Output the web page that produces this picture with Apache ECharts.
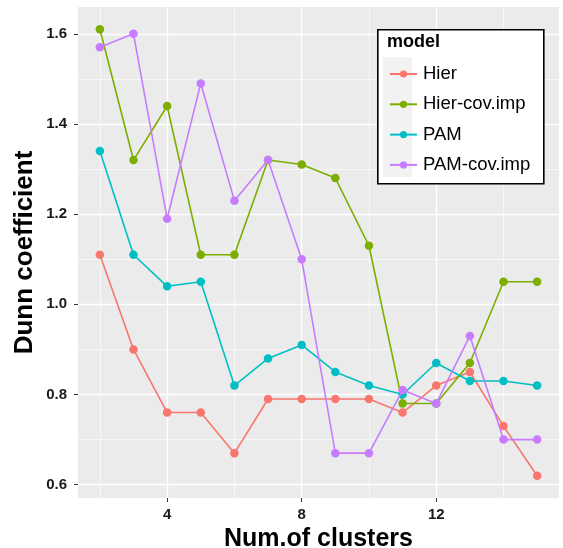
<!DOCTYPE html>
<html>
<head>
<meta charset="utf-8">
<script src="https://cdn.jsdelivr.net/npm/echarts@6/dist/echarts.min.js"></script>
<style>html,body{margin:0;padding:0;background:#fff;}#c{width:563px;height:548px;}</style>
</head>
<body>
<div id="c"></div>
<script>
var clusters = [2,3,4,5,6,7,8,9,10,11,12,13,14,15];
var hier      = [1.11,0.90,0.76,0.76,0.67,0.79,0.79,0.79,0.79,0.76,0.82,0.85,0.73,0.62];
var hierCov   = [1.61,1.32,1.44,1.11,1.11,1.32,1.31,1.28,1.13,0.78,0.78,0.87,1.05,1.05];
var pam       = [1.34,1.11,1.04,1.05,0.82,0.88,0.91,0.85,0.82,0.80,0.87,0.83,0.83,0.82];
var pamCov    = [1.57,1.60,1.19,1.49,1.23,1.32,1.10,0.67,0.67,0.81,0.78,0.93,0.70,0.70];
var seriesNames = ['Hier','Hier-cov.imp','PAM','PAM-cov.imp'];
var seriesColors = ['#F8766D','#7CAE00','#00BFC4','#C77CFF'];
var xTicks = [4,8,12];
var xMinor = [2,6,10,14];
var yTicks = [0.6,0.8,1.0,1.2,1.4,1.6];
var yMinor = [0.7,0.9,1.1,1.3,1.5];

var allVals = [hier,hierCov,pam,pamCov];
var chart = echarts.init(document.getElementById('c'));

function pairs(arr){ return clusters.map(function(c,i){ return [c, arr[i]]; }); }

var gridLines = [];
xMinor.forEach(function(v){ gridLines.push({xAxis:v, lineStyle:{width:0.6}}); });
xTicks.forEach(function(v){ gridLines.push({xAxis:v, lineStyle:{width:1.3}}); });
yMinor.forEach(function(v){ gridLines.push({yAxis:v, lineStyle:{width:0.6}}); });
yTicks.forEach(function(v){ gridLines.push({yAxis:v, lineStyle:{width:1.3}}); });

var series = [{
  type:'line', data:[], silent:true, z:1,
  markLine:{ silent:true, z:1, symbol:['none','none'], label:{show:false}, animation:false,
    lineStyle:{color:'#ffffff', type:'solid'}, emphasis:{disabled:true}, data: gridLines }
}];
allVals.forEach(function(arr,i){
  series.push({
    name: seriesNames[i], type:'line', data: pairs(arr), z:6+i,
    symbol:'circle', symbolSize:8.5, showSymbol:true,
    lineStyle:{width:1.6, color:seriesColors[i]},
    itemStyle:{color:seriesColors[i]},
    emphasis:{disabled:true}, animation:false
  });
});

var xMin = 1.35, xMax = 15.65, yMin = 0.5705, yMax = 1.6595;

chart.setOption({
  animation:false,
  backgroundColor:'#ffffff',
  textStyle:{fontFamily:'Liberation Sans, Arial, sans-serif'},
  grid:{left:78, top:7, width:481, height:491, show:true, backgroundColor:'#EBEBEB', borderWidth:0, containLabel:false, outerBoundsMode:'none'},
  title:{text:'model', left:382, top:28, z:20, textStyle:{fontSize:18, fontWeight:'bold', color:'#000', fontFamily:'Liberation Sans, Arial, sans-serif'}},
  graphic:[
    {type:'rect', left:377, top:29, shape:{width:166, height:154}, style:{fill:'#ffffff', stroke:'#000', lineWidth:1.6}, z:15},
    {type:'rect', left:383, top:57, shape:{width:29, height:120}, style:{fill:'#F2F2F2'}, z:16}
  ],
  legend:{
    data: seriesNames, orient:'vertical', left:384, top:59, itemWidth:27, itemHeight:9, itemGap:10.3,
    z:20,
    textStyle:{fontSize:18.5, color:'#000', lineHeight:20, padding:[0,0,0,1], fontFamily:'Liberation Sans, Arial, sans-serif'},
    selectedMode:false
  },
  xAxis:{
    type:'value', min:xMin, max:xMax,
    name:'Num.of clusters', nameLocation:'middle', nameGap:29, nameMoveOverlap:false,
    nameTextStyle:{fontSize:25, fontWeight:'bold', color:'#000', fontFamily:'Liberation Sans, Arial, sans-serif'},
    axisLine:{show:false},
    axisTick:{show:true, length:4, lineStyle:{color:'#333', width:1}, customValues:xTicks},
    axisLabel:{fontSize:15, fontWeight:'bold', color:'#1a1a1a', margin:9, customValues:xTicks},
    splitLine:{show:false}
  },
  yAxis:{
    type:'value', min:yMin, max:yMax,
    name:'Dunn coefficient', nameLocation:'middle', nameGap:40, nameMoveOverlap:false,
    nameTextStyle:{fontSize:26, fontWeight:'bold', color:'#000', fontFamily:'Liberation Sans, Arial, sans-serif'},
    axisLine:{show:false},
    axisTick:{show:true, length:4, lineStyle:{color:'#333', width:1}, customValues:yTicks},
    axisLabel:{fontSize:15, fontWeight:'bold', color:'#1a1a1a', margin:11, customValues:yTicks,
      formatter:function(v){ return v.toFixed(1); }},
    splitLine:{show:false}
  },
  series: series
});
</script>
</body>
</html>
